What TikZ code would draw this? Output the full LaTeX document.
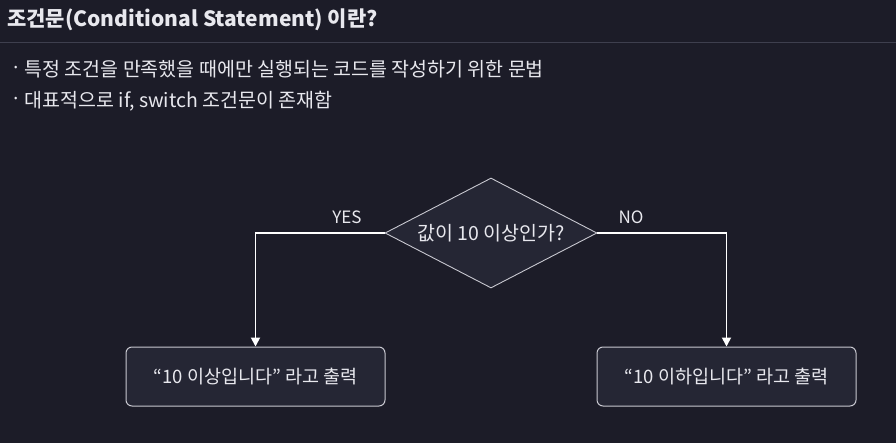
\documentclass[tikz,border=0pt]{standalone}
\usepackage{fontspec}
\setmainfont{Noto Sans CJK KR}
\usetikzlibrary{shapes.geometric,arrows.meta}
\definecolor{bg}{RGB}{28,28,40}
\definecolor{boxfill}{RGB}{37,38,52}
\definecolor{txt}{RGB}{232,232,238}
\definecolor{sep}{RGB}{62,63,78}
\definecolor{border}{RGB}{200,200,208}
\newcommand{\bul}{\raisebox{0.28em}{\fontsize{10}{10}\selectfont•}\hspace{7pt}}
\tikzset{
  lbl/.style={text=txt, inner sep=0pt},
  outbox/.style={draw=border, fill=boxfill, rounded corners=6pt, line width=1pt, minimum width=259pt, minimum height=59pt, text=txt, font=\fontsize{18.5}{20}\selectfont},
  decision/.style={draw=border, fill=boxfill, diamond, line width=0.9pt, minimum width=212pt, minimum height=110pt, inner sep=0pt, aspect=1.93, text=txt, font=\fontsize{19.5}{20}\selectfont},
  conn/.style={draw=white, line width=1.8pt, -{Triangle[width=9pt,length=9pt]}},
}
\begin{document}
\begin{tikzpicture}[x=1pt,y=-1pt]
\fill[bg] (0,0) rectangle (896,443);
\useasboundingbox (0,0) rectangle (896,443);
\node[lbl, anchor=west, font=\fontsize{21}{24}\selectfont\bfseries] (title) at (7,20) {조건문(Conditional Statement) 이란?};
\draw[sep, line width=0.8pt] (0,42.5) -- (896,42.5);
\node[lbl, anchor=west, font=\fontsize{19.5}{22}\selectfont] (b1) at (14,69) {\bul 특정 조건을 만족했을 때에만 실행되는 코드를 작성하기 위한 문법};
\node[lbl, anchor=west, font=\fontsize{19.5}{22}\selectfont] (b2) at (14,101) {\bul 대표적으로 if, switch 조건문이 존재함};
\node[decision] (d) at (491,233) {값이 10 이상인가?};
\node[outbox] (l) at (255.5,376.5) {“10 이상입니다” 라고 출력};
\node[outbox] (r) at (726.5,376.5) {“10 이하입니다” 라고 출력};
\draw[conn] (d.west) -| (l.north);
\draw[conn] (d.east) -| (r.north);
\node[lbl, font=\fontsize{17}{20}\selectfont] (yes) at (347,217) {YES};
\node[lbl, font=\fontsize{17}{20}\selectfont] (no) at (631,217) {NO};
\end{tikzpicture}
\end{document}
